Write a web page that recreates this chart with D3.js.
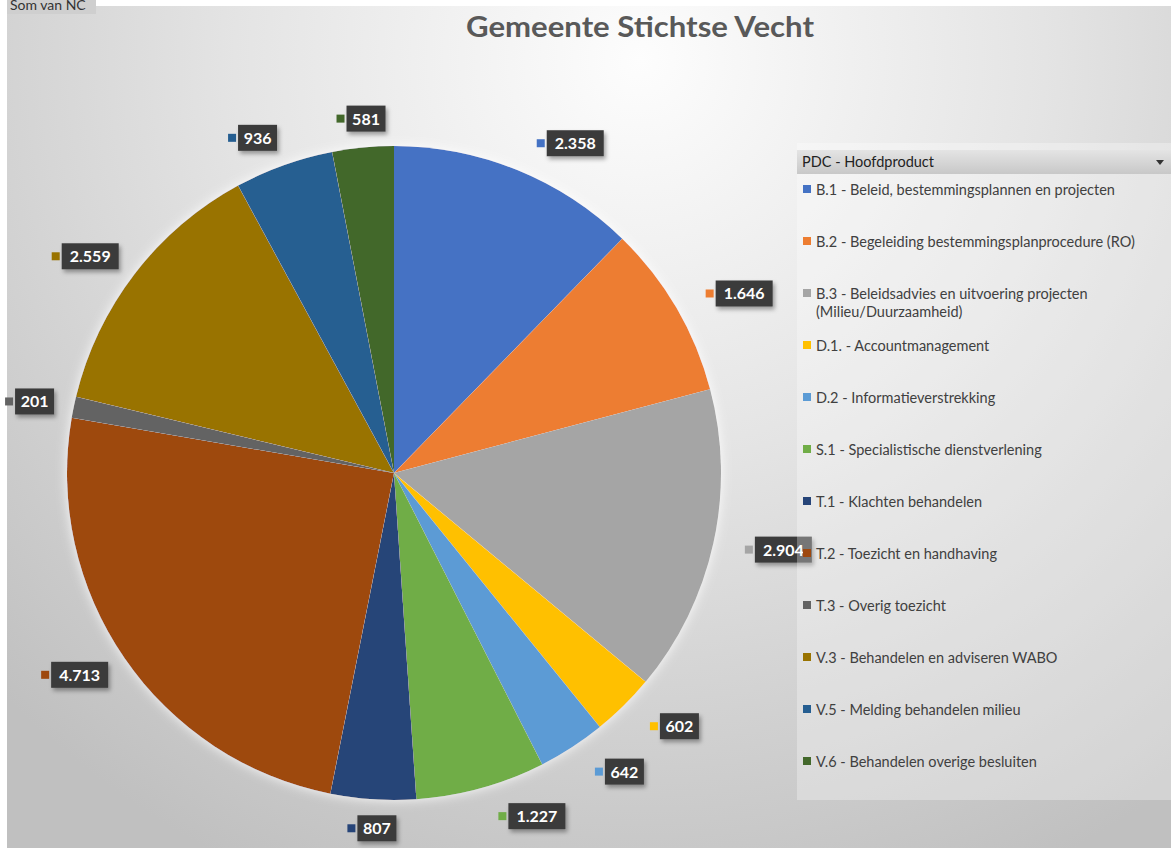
<!DOCTYPE html>
<html>
<head>
<meta charset="utf-8">
<script src="https://cdn.jsdelivr.net/npm/d3@7"></script>
<style>
  body { margin: 0; background: #fff; }
  svg { display: block; font-family: Lato, "Open Sans", sans-serif; }
</style>
</head>
<body>
<svg id="chart" width="1171" height="850"></svg>
<script>
// data
const categories = [
  "B.1 - Beleid, bestemmingsplannen en projecten",
  "B.2 - Begeleiding bestemmingsplanprocedure (RO)",
  "B.3 - Beleidsadvies en uitvoering projecten|(Milieu/Duurzaamheid)",
  "D.1. - Accountmanagement",
  "D.2 - Informatieverstrekking",
  "S.1 - Specialistische dienstverlening",
  "T.1 - Klachten behandelen",
  "T.2 - Toezicht en handhaving",
  "T.3 - Overig toezicht",
  "V.3 - Behandelen en adviseren WABO",
  "V.5 - Melding behandelen milieu",
  "V.6 - Behandelen overige besluiten"
];
const values = [2358, 1646, 2904, 602, 642, 1227, 807, 4713, 201, 2559, 936, 581];
const colors = ["#4472C4", "#ED7D31", "#A5A5A5", "#FFC000", "#5B9BD5", "#70AD47",
                "#264478", "#9E480E", "#636363", "#997300", "#255E91", "#43682B"];

const fmt = d3.formatLocale({decimal: ",", thousands: ".", grouping: [3], currency: ["€", ""]}).format(",d");
const boxW = d => fmt(d.value).length * 9 + 12;

const svg = d3.select("#chart");
const defs = svg.append("defs");

const bg = defs.append("radialGradient").attr("id", "bg")
  .attr("gradientUnits", "userSpaceOnUse")
  .attr("cx", 640).attr("cy", 60).attr("r", 900);
bg.append("stop").attr("offset", "0%").attr("stop-color", "#fdfdfd");
bg.append("stop").attr("offset", "45%").attr("stop-color", "#e4e4e4");
bg.append("stop").attr("offset", "100%").attr("stop-color", "#c0c0c0");

const hdr = defs.append("linearGradient").attr("id", "hdr").attr("x1", 0).attr("y1", 0).attr("x2", 0).attr("y2", 1);
hdr.append("stop").attr("offset", "0%").attr("stop-color", "#e4e4e4");
hdr.append("stop").attr("offset", "100%").attr("stop-color", "#c8c8c8");

const shadow = defs.append("filter").attr("id", "shadow")
  .attr("x", "-30%").attr("y", "-30%").attr("width", "160%").attr("height", "170%");
shadow.append("feDropShadow").attr("dx", 2).attr("dy", 3).attr("stdDeviation", 2)
  .attr("flood-color", "#000").attr("flood-opacity", 0.35);

const glow = defs.append("filter").attr("id", "glow")
  .attr("x", "-10%").attr("y", "-10%").attr("width", "120%").attr("height", "120%");
glow.append("feDropShadow").attr("dx", 0).attr("dy", 0).attr("stdDeviation", 6)
  .attr("flood-color", "#fff").attr("flood-opacity", 0.9);

// chart area
svg.append("rect").attr("x", 7).attr("y", 6).attr("width", 1164).attr("height", 842)
  .attr("fill", "url(#bg)");

// field button, cut off at the top like in the original
svg.append("rect").attr("x", 7).attr("y", 0).attr("width", 89).attr("height", 14).attr("fill", "#cfcfcf");
svg.append("text").attr("x", 10).attr("y", 10).attr("font-size", 14).attr("fill", "#333")
  .text("Som van NC");

svg.append("text").attr("x", 640).attr("y", 37).attr("text-anchor", "middle")
  .attr("font-size", 29).attr("font-weight", "bold").attr("fill", "#595959")
  .attr("textLength", 348).attr("lengthAdjust", "spacingAndGlyphs")
  .text("Gemeente Stichtse Vecht");

// pie
const cx = 394, cy = 473, R = 327;
const pie = d3.pie().sort(null).value(d => d);
const arcs = pie(values);
const arc = d3.arc().innerRadius(0).outerRadius(R);
const labelArc = d3.arc().innerRadius(R + 20).outerRadius(R + 20);

const g = svg.append("g").attr("transform", `translate(${cx},${cy})`);
g.append("g").attr("filter", "url(#glow)")
  .selectAll("path").data(arcs).join("path")
  .attr("d", arc)
  .attr("fill", (d, i) => colors[i]);

// data labels
const lab = g.append("g").selectAll("g").data(arcs).join("g")
  .attr("transform", d => {
    const [px, py] = labelArc.centroid(d);
    const a = (d.startAngle + d.endAngle) / 2;
    const s = Math.sin(a), c = -Math.cos(a);
    const total = boxW(d) + 10;
    let x0;
    if (Math.abs(s) < 0.15) x0 = px - total / 2;
    else if (s > 0) x0 = px + 12;
    else x0 = px - total;
    return `translate(${x0},${py + 9 * c})`;
  });
lab.append("rect").attr("x", 0).attr("y", -4).attr("width", 8).attr("height", 8)
  .attr("fill", (d, i) => colors[i]);
lab.append("rect")
  .attr("x", 10).attr("y", -13)
  .attr("width", boxW).attr("height", 26)
  .attr("fill", "#3b3b3b").attr("filter", "url(#shadow)");
lab.append("text")
  .attr("x", d => 10 + boxW(d) / 2).attr("y", 6)
  .attr("text-anchor", "middle").attr("font-size", 16).attr("font-weight", "bold")
  .attr("fill", "#fff")
  .text(d => fmt(d.value));

// legend
const lx = 797, ly = 143;
svg.append("rect").attr("x", lx).attr("y", ly).attr("width", 374).attr("height", 657)
  .attr("fill", "#fff").attr("fill-opacity", 0.3);
svg.append("rect").attr("x", lx).attr("y", 150).attr("width", 374).attr("height", 24)
  .attr("fill", "url(#hdr)");
svg.append("text").attr("x", lx + 5).attr("y", 167).attr("font-size", 14.5).attr("fill", "#222")
  .text("PDC - Hoofdproduct");
svg.append("path").attr("d", "M1156,160 L1164,160 L1160,165 Z").attr("fill", "#333");

const items = svg.append("g").selectAll("g").data(categories).join("g")
  .attr("transform", (d, i) => `translate(${lx + 6},${190 + i * 52})`);
items.append("rect").attr("x", 0).attr("y", -5).attr("width", 8).attr("height", 8)
  .attr("fill", (d, i) => colors[i]);
items.append("text").attr("x", 13).attr("y", 5).attr("font-size", 14.5).attr("fill", "#404040")
  .selectAll("tspan").data(d => d.split("|")).join("tspan")
  .attr("x", 13).attr("dy", (d, i) => i ? 18 : 0)
  .text(d => d);
</script>
</body>
</html>
